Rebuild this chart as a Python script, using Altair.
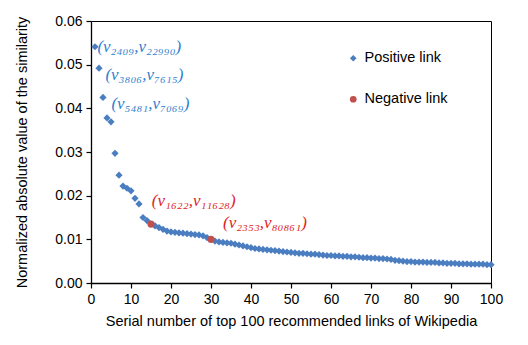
import altair as alt
import pandas as pd

# Normalized absolute similarity for the top 100 recommended links (serial 1..100)
values = [
    0.0541, 0.0492, 0.0425, 0.0378, 0.0369, 0.0297, 0.0247, 0.0222, 0.0217, 0.0211,
    0.0194, 0.0181, 0.0150, 0.0143, 0.0135, 0.0131, 0.0127, 0.0123, 0.0119, 0.0117,
    0.0116, 0.0115, 0.0114, 0.0113, 0.0112, 0.0111, 0.0110, 0.0108, 0.0104, 0.0100,
    0.0096, 0.0094, 0.0093, 0.0092, 0.0091, 0.0089, 0.0087, 0.0085, 0.0083, 0.0081,
    0.0079, 0.0078, 0.0077, 0.0076, 0.0075, 0.0074, 0.0073, 0.0072, 0.0071, 0.0070,
    0.0069, 0.0068, 0.0068, 0.0067, 0.0066, 0.0066, 0.0065, 0.0064, 0.0063, 0.0063,
    0.0062, 0.0062, 0.0061, 0.0061, 0.0060, 0.0060, 0.0059, 0.0058, 0.0058, 0.0057,
    0.0057, 0.0056, 0.0056, 0.0055, 0.0054, 0.0052, 0.0051, 0.0050, 0.0049, 0.0049,
    0.0048, 0.0048, 0.0048, 0.0047, 0.0047, 0.0047, 0.0046, 0.0046, 0.0045, 0.0045,
    0.0045, 0.0044, 0.0044, 0.0044, 0.0043, 0.0043, 0.0043, 0.0043, 0.0042, 0.0042,
]
negative_serials = [15, 30]
x_ticks = [0, 10, 20, 30, 40, 50, 60, 70, 80, 90, 100]
y_ticks = [0.00, 0.01, 0.02, 0.03, 0.04, 0.05, 0.06]

# Annotations
ann_text = ["(v₂₄₀₉,v₂₂₉₉₀)", "(v₃₈₀₆,v₇₆₁₅)", "(v₅₄₈₁,v₇₀₆₉)",
            "(v₁₆₂₂,v₁₁₆₂₈)", "(v₂₃₅₃,v₈₀₈₆₁)"]
ann_x = [1.6, 3.6, 5.1, 15.2, 33.0]
ann_y = [0.0541, 0.0476, 0.0410, 0.0188, 0.0137]
ann_kind = ["Positive link", "Positive link", "Positive link",
            "Negative link", "Negative link"]

serials = list(range(1, len(values) + 1))
kinds = ["Negative link" if s in negative_serials else "Positive link" for s in serials]
df = pd.DataFrame({"serial": serials, "value": values, "kind": kinds})
df["ord"] = (df["kind"] == "Negative link").astype(int)
df = df.sort_values("ord", kind="stable")

ann = pd.DataFrame({"x": ann_x, "y": ann_y, "text": ann_text, "kind": ann_kind})

x_scale = alt.Scale(domain=[0, 100], nice=False)
y_scale = alt.Scale(domain=[0, 0.06], nice=False)
kind_domain = ["Positive link", "Negative link"]

x_axis = alt.Axis(values=x_ticks, format="d", labelOverlap=False, labelFlush=False,
                  title="Serial number of top 100 recommended links of Wikipedia")
y_axis = alt.Axis(values=y_ticks, format=".2f", labelOverlap=False, labelFlush=False,
                  title="Normalized absolute value of the similarity")

points = alt.Chart(df).mark_point(filled=True, opacity=1, size=52).encode(
    x=alt.X("serial:Q", scale=x_scale, axis=x_axis),
    y=alt.Y("value:Q", scale=y_scale, axis=y_axis),
    color=alt.Color("kind:N",
                    scale=alt.Scale(domain=kind_domain, range=["#4A7EC0", "#C0504D"]),
                    legend=alt.Legend(title=None)),
    shape=alt.Shape("kind:N",
                    scale=alt.Scale(domain=kind_domain, range=["diamond", "circle"]),
                    legend=alt.Legend(title=None)),
    order=alt.Order("ord:Q"),
)

def label_layer(kind, colour):
    return alt.Chart(ann).transform_filter(
        alt.datum.kind == kind
    ).mark_text(
        align="left", baseline="middle", font="Liberation Serif",
        fontStyle="italic", fontSize=17, color=colour,
    ).encode(
        x=alt.X("x:Q", scale=x_scale, axis=x_axis),
        y=alt.Y("y:Q", scale=y_scale, axis=y_axis),
        text="text:N",
    )

chart = alt.layer(
    points,
    label_layer("Positive link", "#2F7FD0"),
    label_layer("Negative link", "#E0231E"),
).properties(
    width=400, height=262,
    autosize=alt.AutoSizeParams(type="none"),
    padding={"left": 91, "top": 21, "right": 37, "bottom": 62},
).configure(
    font="Liberation Sans",
).configure_view(
    stroke="#000000", strokeWidth=1,
).configure_axis(
    grid=False, domainColor="#000000", domainWidth=1.3,
    tickColor="#000000", tickSize=5, tickWidth=1.2,
    labelColor="#000000", labelFontSize=14, labelFont="Liberation Sans",
    titleColor="#000000", titleFontSize=14.5, titleFont="Liberation Sans",
    titleFontWeight="normal", labelPadding=4, labelOverlap=False,
).configure_axisX(
    titlePadding=8,
).configure_axisY(
    titlePadding=25,
).configure_legend(
    orient="none", legendX=255, legendY=30,
    labelFontSize=14.5, labelFont="Liberation Sans", labelColor="#000000",
    symbolSize=45, rowPadding=26, labelOffset=4, symbolOpacity=1,
)

chart.save("out.html", embed_options={"renderer": "svg", "actions": False})
